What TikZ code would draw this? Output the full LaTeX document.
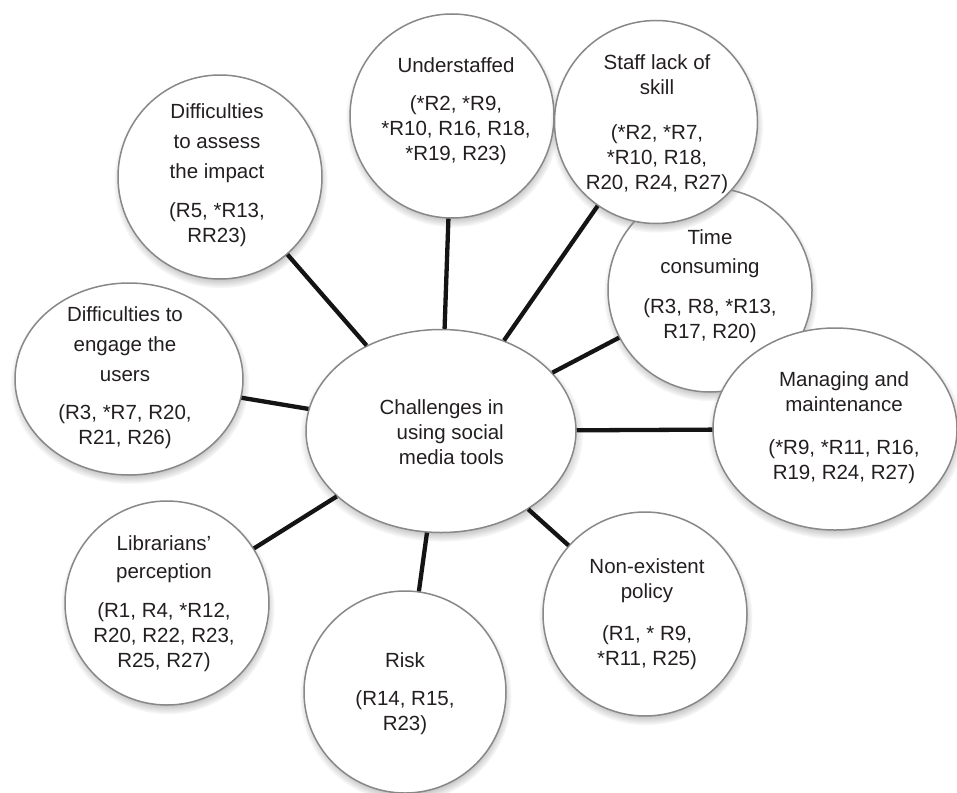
\documentclass[tikz,border=0pt]{standalone}
\usepackage{fontspec}
\setmainfont{Liberation Sans}
\usetikzlibrary{shapes.geometric,shadows}
\definecolor{bordergray}{HTML}{888888}
\definecolor{txtcol}{HTML}{231F20}
\definecolor{linecol}{HTML}{141414}
\tikzset{
  bubshadow/.style={circular drop shadow={shadow xshift=0.5pt, shadow yshift=-4pt, shadow scale=1.05, opacity=0.75}},
  bub/.style={circle, draw=bordergray, line width=1.5pt, fill=white, inner sep=0pt, minimum size=#1, bubshadow},
  ebub/.style n args={2}{ellipse, draw=bordergray, line width=1.5pt, fill=white, inner sep=0pt, minimum width=#1, minimum height=#2, bubshadow},
  txt/.style={align=center, text=txtcol, inner sep=0pt, font=\fontsize{20.5pt}{25pt}\selectfont},
  conn/.style={draw=linecol, line width=4.3pt}
}
\begin{document}
\begin{tikzpicture}[x=1pt,y=-1pt]
\useasboundingbox (0,0) rectangle (957,792);
% bubbles (drawing order matters for overlaps)
\node[bub=204pt] (assess) at (220,177) {};
\node[ebub={228pt}{192pt}] (engage) at (129,379) {};
\node[bub=204pt] (libr) at (167,603) {};
\node[bub=202pt] (risk) at (405,692) {};
\node[bub=204pt] (nonex) at (645,614) {};
\node[bub=204pt] (under) at (452,116) {};
\node[bub=204pt] (timec) at (710,290) {};
\node[bub=203pt] (staff) at (656,122) {};
\node[ebub={244pt}{202pt}] (manag) at (835,429) {};
\node[ebub={270pt}{203pt}] (center) at (441,431) {};
% texts
\node[txt] (assessT) at (217,175) {Difficulties\\[5pt]to assess\\[5pt]the impact\\[14pt](R5, *R13,\\RR23)};
\node[txt] (engageT) at (125,378) {Difficulties to\\[5pt]engage the\\[5pt]users\\[13pt](R3, *R7, R20,\\R21, R26)};
\node[txt] (underT) at (456,111) {Understaffed\\[13pt](*R2, *R9,\\*R10, R16, R18,\\*R19, R23)};
\node[txt] (staffT) at (657,124) {Staff lack of\\skill\\[20pt](*R2, *R7,\\*R10, R18,\\R20, R24, R27)};
\node[txt] (timeT) at (710,286) {Time\\[4pt]consuming\\[15pt](R3, R8, *R13,\\R17, R20)};
\node[txt] (managT) at (844,428) {Managing and\\maintenance\\[18pt](*R9, *R11, R16,\\R19, R24, R27)};
\node[txt] (nonexT) at (647,614) {Non-existent\\policy\\[17pt](R1, * R9,\\*R11, R25)};
\node[txt] (riskT) at (405,694) {Risk\\[13pt](R14, R15,\\R23)};
\node[txt] (librT) at (164,604) {Librarians’\\[3pt]perception\\[14pt](R1, R4, *R12,\\R20, R22, R23,\\R25, R27)};
\node[txt, align=right, anchor=east] (centerT) at (504,432) {Challenges in\\using social\\media tools};
% connectors
\foreach \n in {assess,engage,libr,risk,nonex,under,timec,staff,manag}
  \draw[conn] (\n) -- (center);
\end{tikzpicture}
\end{document}
